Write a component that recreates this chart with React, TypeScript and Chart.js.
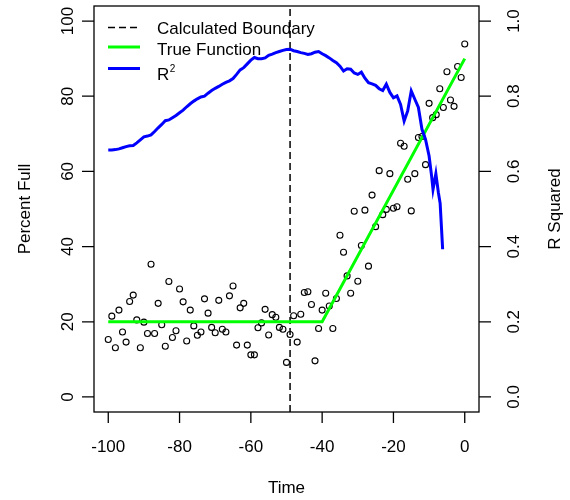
import { useEffect, useRef } from "react";
import { Chart, registerables } from "chart.js";

Chart.register(...registerables);

// Observed fill level at each time step
const pointTime = [
  -100, -99, -98, -97, -96, -95, -94, -93, -92, -91,
  -90, -89, -88, -87, -86, -85, -84, -83, -82, -81,
  -80, -79, -78, -77, -76, -75, -74, -73, -72, -71,
  -70, -69, -68, -67, -66, -65, -64, -63, -62, -61,
  -60, -59, -58, -57, -56, -55, -54, -53, -52, -51,
  -50, -49, -48, -47, -46, -45, -44, -43, -42, -41,
  -40, -39, -38, -37, -36, -35, -34, -33, -32, -31,
  -30, -29, -28, -27, -26, -25, -24, -23, -22, -21,
  -20, -19, -18, -17, -16, -15, -14, -13, -12, -11,
  -10, -9, -8, -7, -6, -5, -4, -3, -2, -1, 0,
];
const percentFull = [
  15.3, 21.5, 13.1, 23.1, 17.3, 14.6, 25.4, 27.1, 20.5, 13.1,
  19.9, 16.9, 35.3, 16.9, 24.9, 19.2, 13.5, 30.7, 15.8, 17.6,
  28.7, 25.3, 14.9, 23.1, 18.9, 16.4, 17.3, 26.1, 22.3, 18.5,
  17.1, 25.7, 18.0, 17.3, 26.9, 29.5, 13.8, 23.7, 24.9, 13.8,
  11.2, 11.2, 18.4, 19.7, 23.3, 16.5, 21.9, 21.2, 18.5, 18.0,
  9.2, 16.6, 21.6, 14.6, 22.0, 27.8, 28.0, 24.6, 9.6, 18.2,
  23.1, 27.6, 24.2, 18.2, 26.2, 43.0, 38.5, 32.2, 27.6, 49.4,
  30.8, 40.3, 49.7, 34.8, 53.7, 45.3, 60.2, 48.5, 49.9, 59.4,
  50.2, 50.6, 67.5, 66.7, 57.9, 49.5, 59.4, 69.0, 69.3, 61.8,
  78.1, 74.3, 75.1, 82.0, 77.0, 86.5, 79.0, 77.3, 87.9, 85.0, 93.9,
];

// Piecewise-linear true function
const trueTime = [-100, -40, 0];
const trueValue = [20, 20, 90];

// Estimated change point
const boundary = -49;

// R squared of the fit for each candidate boundary
const r2Time = [
  -100, -99, -98, -97, -96, -95, -94, -93, -92, -91,
  -90, -89, -88, -87, -86, -85, -84, -83, -82, -81,
  -80, -79, -78, -77, -76, -75, -74, -73, -72, -71,
  -70, -69, -68, -67, -66, -65, -64, -63, -62, -61,
  -60, -59, -58, -57, -56, -55, -54, -53, -52, -51,
  -50, -49, -48, -47, -46, -45, -44, -43, -42, -41,
  -40, -39, -38, -37, -36, -35, -34, -33, -32, -31,
  -30, -29, -28, -27, -26, -25, -24, -23, -22, -21,
  -20, -19, -18, -17, -16, -15, -14, -13, -12, -11,
  -10, -9.3, -8.9, -8.1, -7.4, -6.9, -6.5, -6.2,
];
const r2Value = [
  0.657, 0.657, 0.658, 0.660, 0.663, 0.666, 0.668, 0.669, 0.676, 0.684,
  0.692, 0.694, 0.697, 0.706, 0.716, 0.725, 0.735, 0.737, 0.743, 0.749,
  0.756, 0.763, 0.772, 0.780, 0.787, 0.793, 0.798, 0.800, 0.808, 0.815,
  0.821, 0.826, 0.832, 0.837, 0.841, 0.847, 0.858, 0.870, 0.876, 0.886,
  0.896, 0.903, 0.900, 0.900, 0.902, 0.909, 0.912, 0.916, 0.919, 0.922,
  0.924, 0.925, 0.921, 0.919, 0.916, 0.914, 0.911, 0.913, 0.917, 0.919,
  0.913, 0.908, 0.902, 0.895, 0.889, 0.880, 0.867, 0.873, 0.872, 0.862,
  0.858, 0.864, 0.848, 0.836, 0.833, 0.829, 0.820, 0.815, 0.832, 0.810,
  0.796, 0.801, 0.778, 0.734, 0.761, 0.814, 0.792, 0.770, 0.712, 0.685,
  0.641, 0.588, 0.552, 0.594, 0.544, 0.515, 0.446, 0.393,
];

// Axis ticks and limits
const xTicks = [-100, -80, -60, -40, -20, 0];
const yTicks = [0, 20, 40, 60, 80, 100];
const y2Ticks = [0, 0.2, 0.4, 0.6, 0.8, 1.0];
const xRange = [-104, 4];
const yRange = [-4, 104];
const y2Range = [-0.04, 1.04];

const FONT = '"Liberation Sans", Arial, Helvetica, sans-serif';
const DASH = [7, 4];

// Draws the boxed frame, outward ticks, rotated labels, titles and legend
const framePlugin = {
  id: "frame",
  afterDatasetsDraw(chart: any) {
    const { ctx, chartArea: a, scales } = chart;
    const sx = scales.x;
    const sy = scales.y;
    const sy2 = scales.y2;
    const midY = (a.top + a.bottom) / 2;
    ctx.save();

    ctx.strokeStyle = "#000";
    ctx.lineWidth = 1.3;
    ctx.setLineDash([]);
    ctx.strokeRect(a.left, a.top, a.right - a.left, a.bottom - a.top);

    ctx.beginPath();
    xTicks.forEach((v) => {
      const px = sx.getPixelForValue(v);
      ctx.moveTo(px, a.bottom);
      ctx.lineTo(px, a.bottom + 11);
    });
    yTicks.forEach((v) => {
      const py = sy.getPixelForValue(v);
      ctx.moveTo(a.left, py);
      ctx.lineTo(a.left - 12, py);
    });
    y2Ticks.forEach((v) => {
      const py = sy2.getPixelForValue(v);
      ctx.moveTo(a.right, py);
      ctx.lineTo(a.right + 12, py);
    });
    ctx.stroke();

    ctx.fillStyle = "#000";
    ctx.font = `17px ${FONT}`;
    ctx.textAlign = "center";
    ctx.textBaseline = "alphabetic";
    xTicks.forEach((v) => ctx.fillText(String(v), sx.getPixelForValue(v), 452));
    ctx.fillText("Time", (a.left + a.right) / 2, 493);

    const rotated = (text: string, bx: number, cy: number) => {
      ctx.save();
      ctx.translate(bx, cy);
      ctx.rotate(-Math.PI / 2);
      ctx.fillText(text, 0, 0);
      ctx.restore();
    };
    yTicks.forEach((v) => rotated(String(v), 72.5, sy.getPixelForValue(v)));
    y2Ticks.forEach((v) => rotated(v.toFixed(1), 519, sy2.getPixelForValue(v)));
    rotated("Percent Full", 30, midY);
    rotated("R Squared", 560, midY);

    // Legend
    const lx0 = 108;
    const lx1 = 140;
    ctx.lineWidth = 1.5;
    ctx.strokeStyle = "#000";
    ctx.setLineDash(DASH);
    ctx.beginPath();
    ctx.moveTo(lx0, 27.5);
    ctx.lineTo(lx1, 27.5);
    ctx.stroke();
    ctx.setLineDash([]);
    ctx.lineWidth = 3;
    ctx.strokeStyle = "#00ff00";
    ctx.beginPath();
    ctx.moveTo(lx0, 47);
    ctx.lineTo(lx1, 47);
    ctx.stroke();
    ctx.strokeStyle = "#0000ff";
    ctx.beginPath();
    ctx.moveTo(lx0, 68.5);
    ctx.lineTo(lx1, 68.5);
    ctx.stroke();

    ctx.textAlign = "left";
    const tx = 157;
    ctx.fillText("Calculated Boundary", tx, 34);
    ctx.fillText("True Function", tx, 55);
    ctx.fillText("R", tx, 80);
    const rw = ctx.measureText("R").width;
    ctx.font = `10px ${FONT}`;
    ctx.fillText("2", tx + rw + 0.5, 72);

    ctx.restore();
  },
};

export default function App() {
  const canvasRef = useRef<HTMLCanvasElement | null>(null);

  useEffect(() => {
    const canvas = canvasRef.current;
    if (!canvas) return;

    const chart = new Chart(canvas, {
      type: "scatter",
      data: {
        datasets: [
          {
            label: "R2",
            data: r2Time.map((t, i) => ({ x: t, y: r2Value[i] })),
            yAxisID: "y2",
            showLine: true,
            borderColor: "#0000ff",
            borderWidth: 3,
            pointRadius: 0,
            tension: 0,
            order: 1,
          },
          {
            label: "True Function",
            data: trueTime.map((t, i) => ({ x: t, y: trueValue[i] })),
            yAxisID: "y",
            showLine: true,
            borderColor: "#00ff00",
            borderWidth: 3,
            pointRadius: 0,
            order: 2,
          },
          {
            label: "Calculated Boundary",
            data: [
              { x: boundary, y: yRange[0] },
              { x: boundary, y: yRange[1] },
            ],
            yAxisID: "y",
            showLine: true,
            borderColor: "#000",
            borderWidth: 1.5,
            borderDash: DASH,
            pointRadius: 0,
            order: 3,
          },
          {
            label: "Percent Full",
            data: pointTime.map((t, i) => ({ x: t, y: percentFull[i] })),
            yAxisID: "y",
            showLine: false,
            pointStyle: "circle",
            pointRadius: 3,
            borderWidth: 1.1,
            borderColor: "#000",
            backgroundColor: "rgba(0,0,0,0)",
            order: 4,
          },
        ],
      },
      options: {
        responsive: false,
        animation: false,
        events: [],
        layout: { padding: { left: 94, right: 91, top: 6, bottom: 88 } },
        plugins: {
          legend: { display: false },
          tooltip: { enabled: false },
        },
        scales: {
          x: { type: "linear", min: xRange[0], max: xRange[1], display: false },
          y: { type: "linear", min: yRange[0], max: yRange[1], display: false },
          y2: {
            type: "linear",
            position: "right",
            min: y2Range[0],
            max: y2Range[1],
            display: false,
          },
        },
      },
      plugins: [framePlugin],
    });

    return () => chart.destroy();
  }, []);

  return (
    <div style={{ position: "absolute", left: 0, top: 0, width: 570, height: 500, background: "#fff" }}>
      <canvas ref={canvasRef} width={570} height={500} style={{ display: "block" }} />
    </div>
  );
}
